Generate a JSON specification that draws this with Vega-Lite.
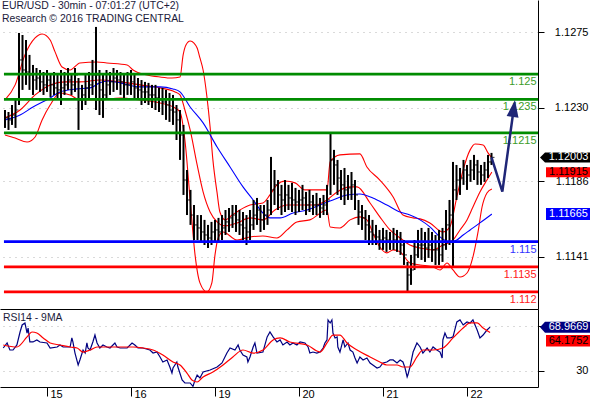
{
"$schema":"https://vega.github.io/schema/vega-lite/v6.json",
"padding":0,"spacing":0,"background":"#ffffff",
"config":{"view":{"stroke":null},"font":"Liberation Sans"},
"datasets":{
"candles":[
{"t":0,"h":1.12286,"l":1.12179,"c":1.12239},{"t":1,"h":1.12274,"l":1.12167,"c":1.12227},{"t":2,"h":1.12316,"l":1.12197,"c":1.12256},{"t":3,"h":1.12346,"l":1.12179,"c":1.12286},{"t":4,"h":1.12746,"l":1.12316,"c":1.12585},{"t":5,"h":1.12734,"l":1.12406,"c":1.12525},{"t":6,"h":1.12704,"l":1.12436,"c":1.12513},{"t":7,"h":1.12615,"l":1.12406,"c":1.12495},{"t":8,"h":1.12555,"l":1.12376,"c":1.12465},{"t":9,"h":1.12537,"l":1.12406,"c":1.12477},
{"t":10,"h":1.12525,"l":1.12394,"c":1.12454},{"t":11,"h":1.12513,"l":1.12376,"c":1.12436},{"t":12,"h":1.12525,"l":1.12394,"c":1.12465},{"t":13,"h":1.12495,"l":1.12364,"c":1.12436},{"t":14,"h":1.12513,"l":1.12376,"c":1.12418},{"t":15,"h":1.12495,"l":1.12346,"c":1.12406},{"t":16,"h":1.12525,"l":1.12316,"c":1.12418},{"t":17,"h":1.12513,"l":1.12376,"c":1.12436},{"t":18,"h":1.12537,"l":1.12406,"c":1.12465},{"t":19,"h":1.12495,"l":1.12376,"c":1.12436},
{"t":20,"h":1.12537,"l":1.12394,"c":1.12495},{"t":21,"h":1.12477,"l":1.12167,"c":1.12346},{"t":22,"h":1.12436,"l":1.12286,"c":1.12376},{"t":23,"h":1.12495,"l":1.12316,"c":1.12418},{"t":24,"h":1.12513,"l":1.12346,"c":1.12436},{"t":25,"h":1.12585,"l":1.12376,"c":1.12495},{"t":26,"h":1.12782,"l":1.12286,"c":1.12495},{"t":27,"h":1.12525,"l":1.12256,"c":1.12406},{"t":28,"h":1.12495,"l":1.12239,"c":1.12376},{"t":29,"h":1.12525,"l":1.12346,"c":1.12436},
{"t":30,"h":1.12513,"l":1.12376,"c":1.12454},{"t":31,"h":1.12537,"l":1.12394,"c":1.12477},{"t":32,"h":1.12525,"l":1.12406,"c":1.12465},{"t":33,"h":1.12513,"l":1.12376,"c":1.12454},{"t":34,"h":1.12495,"l":1.12358,"c":1.12436},{"t":35,"h":1.12513,"l":1.12376,"c":1.12436},{"t":36,"h":1.12525,"l":1.12376,"c":1.12454},{"t":37,"h":1.12495,"l":1.12346,"c":1.12418},{"t":38,"h":1.12477,"l":1.12346,"c":1.12406},{"t":39,"h":1.12465,"l":1.12316,"c":1.12394},
{"t":40,"h":1.12454,"l":1.12328,"c":1.12394},{"t":41,"h":1.12448,"l":1.12316,"c":1.12376},{"t":42,"h":1.12436,"l":1.12298,"c":1.12376},{"t":43,"h":1.12436,"l":1.12286,"c":1.12358},{"t":44,"h":1.12418,"l":1.12274,"c":1.12346},{"t":45,"h":1.12418,"l":1.12256,"c":1.12334},{"t":46,"h":1.12406,"l":1.12227,"c":1.12316},{"t":47,"h":1.12388,"l":1.12215,"c":1.12286},{"t":48,"h":1.12376,"l":1.12197,"c":1.12274},{"t":49,"h":1.12316,"l":1.12107,"c":1.12227},
{"t":50,"h":1.12286,"l":1.11988,"c":1.12137},{"t":51,"h":1.12197,"l":1.11779,"c":1.11868},{"t":52,"h":1.11928,"l":1.11659,"c":1.11749},{"t":53,"h":1.11809,"l":1.116,"c":1.11659},{"t":54,"h":1.11719,"l":1.1151,"c":1.116},{"t":55,"h":1.11659,"l":1.1151,"c":1.11582},{"t":56,"h":1.11659,"l":1.11492,"c":1.11558},{"t":57,"h":1.1163,"l":1.1148,"c":1.1154},{"t":58,"h":1.116,"l":1.11462,"c":1.11522},{"t":59,"h":1.11618,"l":1.1148,"c":1.11558},
{"t":60,"h":1.1163,"l":1.11492,"c":1.1157},{"t":61,"h":1.11642,"l":1.11498,"c":1.11558},{"t":62,"h":1.11659,"l":1.1151,"c":1.11582},{"t":63,"h":1.11689,"l":1.1154,"c":1.11618},{"t":64,"h":1.11701,"l":1.11558,"c":1.11642},{"t":65,"h":1.11719,"l":1.11582,"c":1.11659},{"t":66,"h":1.11719,"l":1.11558,"c":1.1163},{"t":67,"h":1.11689,"l":1.1154,"c":1.116},{"t":68,"h":1.11677,"l":1.1151,"c":1.11582},{"t":69,"h":1.11659,"l":1.1148,"c":1.11558},
{"t":70,"h":1.11689,"l":1.1151,"c":1.116},{"t":71,"h":1.11749,"l":1.1157,"c":1.11659},{"t":72,"h":1.11761,"l":1.116,"c":1.11689},{"t":73,"h":1.11719,"l":1.11558,"c":1.1163},{"t":74,"h":1.11719,"l":1.1157,"c":1.11659},{"t":75,"h":1.11749,"l":1.116,"c":1.11689},{"t":76,"h":1.12006,"l":1.11659,"c":1.11809},{"t":77,"h":1.11928,"l":1.11719,"c":1.11839},{"t":78,"h":1.11868,"l":1.11689,"c":1.11779},{"t":79,"h":1.11839,"l":1.11659,"c":1.11749},
{"t":80,"h":1.11868,"l":1.11677,"c":1.11779},{"t":81,"h":1.11839,"l":1.11689,"c":1.11761},{"t":82,"h":1.11851,"l":1.11677,"c":1.11749},{"t":83,"h":1.11821,"l":1.11659,"c":1.11737},{"t":84,"h":1.11809,"l":1.11677,"c":1.11749},{"t":85,"h":1.11839,"l":1.11689,"c":1.11761},{"t":86,"h":1.11797,"l":1.11659,"c":1.11719},{"t":87,"h":1.11809,"l":1.11677,"c":1.11737},{"t":88,"h":1.11779,"l":1.11659,"c":1.11719},{"t":89,"h":1.11791,"l":1.11659,"c":1.11719},
{"t":90,"h":1.11761,"l":1.11642,"c":1.11701},{"t":91,"h":1.11779,"l":1.11659,"c":1.11719},{"t":92,"h":1.11839,"l":1.11659,"c":1.11749},{"t":93,"h":1.12143,"l":1.11779,"c":1.11988},{"t":94,"h":1.12048,"l":1.11839,"c":1.11958},{"t":95,"h":1.11988,"l":1.11779,"c":1.1188},{"t":96,"h":1.11928,"l":1.11749,"c":1.11839},{"t":97,"h":1.1194,"l":1.11719,"c":1.11809},{"t":98,"h":1.11898,"l":1.11749,"c":1.11821},{"t":99,"h":1.11916,"l":1.11749,"c":1.11839},
{"t":100,"h":1.11868,"l":1.11689,"c":1.11779},{"t":101,"h":1.11749,"l":1.116,"c":1.11677},{"t":102,"h":1.11719,"l":1.1157,"c":1.11642},{"t":103,"h":1.11689,"l":1.1151,"c":1.116},{"t":104,"h":1.11659,"l":1.1148,"c":1.11558},{"t":105,"h":1.1163,"l":1.1148,"c":1.1154},{"t":106,"h":1.116,"l":1.1148,"c":1.11528},{"t":107,"h":1.1157,"l":1.11451,"c":1.1151},{"t":108,"h":1.11582,"l":1.11451,"c":1.11522},{"t":109,"h":1.1157,"l":1.11439,"c":1.1151},
{"t":110,"h":1.11558,"l":1.11451,"c":1.11498},{"t":111,"h":1.11582,"l":1.11451,"c":1.1151},{"t":112,"h":1.1157,"l":1.11439,"c":1.11498},{"t":113,"h":1.11558,"l":1.11421,"c":1.1148},{"t":114,"h":1.1151,"l":1.11361,"c":1.11421},{"t":115,"h":1.11379,"l":1.112,"c":1.11301},{"t":116,"h":1.11421,"l":1.11242,"c":1.11331},{"t":117,"h":1.1151,"l":1.11331,"c":1.11421},{"t":118,"h":1.1157,"l":1.11403,"c":1.1148},{"t":119,"h":1.11582,"l":1.11391,"c":1.1148},
{"t":120,"h":1.11558,"l":1.11379,"c":1.11462},{"t":121,"h":1.11582,"l":1.11403,"c":1.1148},{"t":122,"h":1.11558,"l":1.11379,"c":1.11451},{"t":123,"h":1.1154,"l":1.11361,"c":1.11451},{"t":124,"h":1.1157,"l":1.11361,"c":1.11421},{"t":125,"h":1.11582,"l":1.11379,"c":1.1148},{"t":126,"h":1.11689,"l":1.11451,"c":1.116},{"t":127,"h":1.11749,"l":1.1148,"c":1.11659},{"t":128,"h":1.11976,"l":1.11349,"c":1.11809},{"t":129,"h":1.11958,"l":1.11749,"c":1.11868},
{"t":130,"h":1.1194,"l":1.11779,"c":1.1188},{"t":131,"h":1.11988,"l":1.11839,"c":1.11928},{"t":132,"h":1.11958,"l":1.11809,"c":1.11898},{"t":133,"h":1.11988,"l":1.11857,"c":1.11928},{"t":134,"h":1.12018,"l":1.11868,"c":1.11958},{"t":135,"h":1.11988,"l":1.11839,"c":1.11916},{"t":136,"h":1.11958,"l":1.11839,"c":1.11898},{"t":137,"h":1.11976,"l":1.11857,"c":1.11928},{"t":138,"h":1.12018,"l":1.1188,"c":1.11976},{"t":139,"h":1.1203,"l":1.11958,"c":1.12003}
],
"bands":[
{"s":"upper","t":0,"v":1.12346},{"s":"upper","t":2.9,"v":1.12436},{"s":"upper","t":5.7,"v":1.12615},{"s":"upper","t":8.6,"v":1.12716},{"s":"upper","t":10.6,"v":1.1274},{"s":"upper","t":12.9,"v":1.12704},{"s":"upper","t":14.3,"v":1.12633},{"s":"upper","t":16.3,"v":1.12543},{"s":"upper","t":18.6,"v":1.12525},{"s":"upper","t":21.4,"v":1.12567},{"s":"upper","t":26.3,"v":1.12573},{"s":"upper","t":29.1,"v":1.12567},{"s":"upper","t":34.9,"v":1.12555},{"s":"upper","t":36.6,"v":1.12525},{"s":"upper","t":40.6,"v":1.12495},{"s":"upper","t":44.3,"v":1.12483},{"s":"upper","t":47.7,"v":1.12477},{"s":"upper","t":50,"v":1.12483},{"s":"upper","t":50.9,"v":1.12615},{"s":"upper","t":51.7,"v":1.12674},{"s":"upper","t":52.9,"v":1.12698},{"s":"upper","t":54,"v":1.12686},{"s":"upper","t":54.9,"v":1.12656},{"s":"upper","t":55.7,"v":1.12597},{"s":"upper","t":56.6,"v":1.12525},{"s":"upper","t":57.7,"v":1.12364},{"s":"upper","t":58.6,"v":1.12185},{"s":"upper","t":59.4,"v":1.11988},{"s":"upper","t":60.6,"v":1.11791},{"s":"upper","t":61.4,"v":1.11677},{"s":"upper","t":62.9,"v":1.1163},{"s":"upper","t":64.9,"v":1.11659},{"s":"upper","t":67.1,"v":1.11689},{"s":"upper","t":70,"v":1.11719},{"s":"upper","t":73.7,"v":1.11731},{"s":"upper","t":75.7,"v":1.11779},{"s":"upper","t":77.7,"v":1.11839},{"s":"upper","t":80,"v":1.11862},{"s":"upper","t":82.9,"v":1.11851},{"s":"upper","t":85.7,"v":1.11809},{"s":"upper","t":90,"v":1.11809},{"s":"upper","t":92,"v":1.11809},{"s":"upper","t":92.9,"v":1.11976},{"s":"upper","t":95.7,"v":1.12018},{"s":"upper","t":101.4,"v":1.12024},{"s":"upper","t":103.4,"v":1.11946},{"s":"upper","t":107.1,"v":1.11868},{"s":"upper","t":110.9,"v":1.11767},{"s":"upper","t":113.7,"v":1.11659},{"s":"upper","t":116.6,"v":1.11642},{"s":"upper","t":118.6,"v":1.11636},{"s":"upper","t":121.4,"v":1.11612},{"s":"upper","t":125.1,"v":1.11558},{"s":"upper","t":127.1,"v":1.11588},{"s":"upper","t":129.1,"v":1.11767},{"s":"upper","t":130.9,"v":1.11928},{"s":"upper","t":132.9,"v":1.12048},{"s":"upper","t":134.3,"v":1.12083},{"s":"upper","t":136.6,"v":1.12077},{"s":"upper","t":138,"v":1.1203},{"s":"upper","t":139.1,"v":1.12},
{"s":"middle","t":0,"v":1.12239},{"s":"middle","t":4.3,"v":1.12286},{"s":"middle","t":8.6,"v":1.12376},{"s":"middle","t":12.9,"v":1.12436},{"s":"middle","t":17.1,"v":1.12454},{"s":"middle","t":21.4,"v":1.12454},{"s":"middle","t":27.1,"v":1.12465},{"s":"middle","t":32.9,"v":1.12454},{"s":"middle","t":38.6,"v":1.12436},{"s":"middle","t":44.3,"v":1.12418},{"s":"middle","t":48.6,"v":1.12394},{"s":"middle","t":50,"v":1.12376},{"s":"middle","t":51.4,"v":1.12286},{"s":"middle","t":52.9,"v":1.12167},{"s":"middle","t":54.9,"v":1.11958},{"s":"middle","t":56.6,"v":1.11797},{"s":"middle","t":58.6,"v":1.11677},{"s":"middle","t":60.6,"v":1.11618},{"s":"middle","t":62.9,"v":1.11594},{"s":"middle","t":66.3,"v":1.11612},{"s":"middle","t":70,"v":1.11642},{"s":"middle","t":73.7,"v":1.1163},{"s":"middle","t":77.1,"v":1.11689},{"s":"middle","t":80.6,"v":1.11719},{"s":"middle","t":84.3,"v":1.11719},{"s":"middle","t":88.6,"v":1.11719},{"s":"middle","t":92,"v":1.11749},{"s":"middle","t":94.9,"v":1.11797},{"s":"middle","t":98.6,"v":1.11827},{"s":"middle","t":100.6,"v":1.11827},{"s":"middle","t":104.3,"v":1.11731},{"s":"middle","t":107.1,"v":1.11648},{"s":"middle","t":110,"v":1.1157},{"s":"middle","t":112.9,"v":1.11522},{"s":"middle","t":115.7,"v":1.1148},{"s":"middle","t":118.6,"v":1.11462},{"s":"middle","t":122.3,"v":1.11451},{"s":"middle","t":125.1,"v":1.1148},{"s":"middle","t":128,"v":1.1151},{"s":"middle","t":130,"v":1.1157},{"s":"middle","t":132,"v":1.1163},{"s":"middle","t":133.7,"v":1.11707},{"s":"middle","t":135.7,"v":1.11797},{"s":"middle","t":137.7,"v":1.11868},{"s":"middle","t":139.1,"v":1.11915},
{"s":"lower","t":0,"v":1.12137},{"s":"lower","t":2.9,"v":1.12119},{"s":"lower","t":6.3,"v":1.12095},{"s":"lower","t":8.6,"v":1.12125},{"s":"lower","t":10.6,"v":1.12227},{"s":"lower","t":12.9,"v":1.12316},{"s":"lower","t":15.7,"v":1.12388},{"s":"lower","t":18.6,"v":1.12376},{"s":"lower","t":21.4,"v":1.12346},{"s":"lower","t":27.1,"v":1.12346},{"s":"lower","t":32.9,"v":1.12358},{"s":"lower","t":38.6,"v":1.12346},{"s":"lower","t":44.3,"v":1.12328},{"s":"lower","t":48.6,"v":1.12298},{"s":"lower","t":50,"v":1.12274},{"s":"lower","t":51.4,"v":1.12107},{"s":"lower","t":52.9,"v":1.11749},{"s":"lower","t":54.3,"v":1.11421},{"s":"lower","t":55.7,"v":1.11254},{"s":"lower","t":57.7,"v":1.112},{"s":"lower","t":59.1,"v":1.11254},{"s":"lower","t":60,"v":1.11421},{"s":"lower","t":60.9,"v":1.11522},{"s":"lower","t":62.3,"v":1.11558},{"s":"lower","t":66.3,"v":1.1151},{"s":"lower","t":70,"v":1.11528},{"s":"lower","t":73.7,"v":1.11534},{"s":"lower","t":77.7,"v":1.11522},{"s":"lower","t":80.6,"v":1.1157},{"s":"lower","t":83.4,"v":1.11618},{"s":"lower","t":87.1,"v":1.1163},{"s":"lower","t":92,"v":1.11689},{"s":"lower","t":92.9,"v":1.11588},{"s":"lower","t":95.7,"v":1.11582},{"s":"lower","t":98.6,"v":1.1163},{"s":"lower","t":101.4,"v":1.11648},{"s":"lower","t":103.4,"v":1.1163},{"s":"lower","t":105.1,"v":1.11552},{"s":"lower","t":107.1,"v":1.11468},{"s":"lower","t":109.1,"v":1.11433},{"s":"lower","t":110.9,"v":1.11451},{"s":"lower","t":112.9,"v":1.11439},{"s":"lower","t":115.7,"v":1.11373},{"s":"lower","t":118.6,"v":1.11361},{"s":"lower","t":122.3,"v":1.11349},{"s":"lower","t":124.3,"v":1.11331},{"s":"lower","t":126.3,"v":1.11373},{"s":"lower","t":128,"v":1.11331},{"s":"lower","t":130,"v":1.11289},{"s":"lower","t":132,"v":1.11313},{"s":"lower","t":133.7,"v":1.11409},{"s":"lower","t":135.1,"v":1.11552},{"s":"lower","t":136.3,"v":1.11707},{"s":"lower","t":137.7,"v":1.11791},{"s":"lower","t":139.1,"v":1.11815},
{"s":"ma","t":0,"v":1.12227},{"s":"ma","t":4.3,"v":1.12256},{"s":"ma","t":8,"v":1.12304},{"s":"ma","t":12.9,"v":1.12358},{"s":"ma","t":15.7,"v":1.12394},{"s":"ma","t":20.6,"v":1.12412},{"s":"ma","t":24.3,"v":1.12418},{"s":"ma","t":27.1,"v":1.12448},{"s":"ma","t":29.1,"v":1.12459},{"s":"ma","t":32.9,"v":1.12448},{"s":"ma","t":38.6,"v":1.12424},{"s":"ma","t":44.3,"v":1.12424},{"s":"ma","t":48,"v":1.12412},{"s":"ma","t":50,"v":1.12394},{"s":"ma","t":52.9,"v":1.12304},{"s":"ma","t":56.6,"v":1.12209},{"s":"ma","t":60.6,"v":1.12065},{"s":"ma","t":64.3,"v":1.11946},{"s":"ma","t":68,"v":1.11827},{"s":"ma","t":70.9,"v":1.11749},{"s":"ma","t":73.7,"v":1.11671},{"s":"ma","t":75.7,"v":1.11642},{"s":"ma","t":78.6,"v":1.11642},{"s":"ma","t":82.3,"v":1.11671},{"s":"ma","t":86.3,"v":1.11689},{"s":"ma","t":90,"v":1.11719},{"s":"ma","t":93.7,"v":1.11749},{"s":"ma","t":97.7,"v":1.11779},{"s":"ma","t":101.4,"v":1.11785},{"s":"ma","t":105.1,"v":1.11761},{"s":"ma","t":109.1,"v":1.11719},{"s":"ma","t":112.9,"v":1.11677},{"s":"ma","t":115.7,"v":1.11659},{"s":"ma","t":118.6,"v":1.1163},{"s":"ma","t":121.4,"v":1.11588},{"s":"ma","t":124.3,"v":1.11528},{"s":"ma","t":127.1,"v":1.11498},{"s":"ma","t":129.1,"v":1.1151},{"s":"ma","t":130.9,"v":1.1154},{"s":"ma","t":132.9,"v":1.1157},{"s":"ma","t":135.7,"v":1.11612},{"s":"ma","t":139.1,"v":1.11665}
],
"levels":[
{"price":1.125,"label":"1.125","kind":"resistance"},{"price":1.1235,"label":"1.1235","kind":"resistance"},{"price":1.1215,"label":"1.1215","kind":"resistance"},{"price":1.115,"label":"1.115","kind":"pivot"},{"price":1.1135,"label":"1.1135","kind":"support"},{"price":1.112,"label":"1.112","kind":"support"}
],
"forecast":[{"t":139,"v":1.12003},{"t":142.1,"v":1.11799},{"t":145.3,"v":1.12286}],
"pricelabels":[{"name":"last","v":1.12003},{"name":"mid","v":1.11915},{"name":"ma","v":1.11665}],
"rsi":[
{"t":-0.5,"v":50.3},{"t":0.6,"v":54.8},{"t":1.4,"v":48.5},{"t":2.3,"v":48.5},{"t":3.4,"v":53.0},{"t":4.3,"v":64.6},{"t":4.9,"v":70.9},{"t":5.7,"v":72.7},{"t":6.3,"v":63.7},{"t":6.6,"v":68.2},{"t":7.1,"v":55.7},{"t":8,"v":55.7},{"t":9.1,"v":57.5},{"t":10,"v":55.7},{"t":12,"v":54.8},{"t":12.9,"v":50.3},{"t":14.9,"v":51.2},{"t":15.7,"v":53.0},{"t":16.6,"v":51.2},{"t":18.6,"v":51.2},{"t":19.1,"v":59.3},{"t":19.4,"v":55.7},{"t":20,"v":45.8},{"t":20.9,"v":35.1},{"t":21.4,"v":39.6},{"t":22.3,"v":48.5},{"t":22.9,"v":45.8},{"t":23.4,"v":54.8},{"t":23.7,"v":50.3},{"t":24.3,"v":48.5},{"t":25.1,"v":55.7},{"t":25.7,"v":61.9},{"t":26.3,"v":54.8},{"t":27.1,"v":50.3},{"t":28,"v":53.0},{"t":29.1,"v":51.2},{"t":30,"v":50.3},{"t":31.4,"v":54.8},{"t":32,"v":51.2},{"t":32.9,"v":50.3},{"t":34.9,"v":50.3},{"t":36.3,"v":54.8},{"t":37.1,"v":53.0},{"t":38,"v":50.3},{"t":39.4,"v":50.3},{"t":41.4,"v":48.5},{"t":42.3,"v":45.8},{"t":43.4,"v":46.7},{"t":44.3,"v":42.3},{"t":45.1,"v":37.8},{"t":46.3,"v":39.6},{"t":47.1,"v":33.3},{"t":47.7,"v":27.9},{"t":48,"v":32.4},{"t":49.1,"v":37.8},{"t":49.4,"v":33.3},{"t":50.6,"v":21.7},{"t":51.4,"v":19.0},{"t":52.9,"v":19.0},{"t":53.7,"v":16.0},{"t":54.3,"v":21.7},{"t":54.9,"v":26.1},{"t":55.7,"v":23.5},{"t":56.6,"v":28.8},{"t":58.6,"v":30.6},{"t":60.6,"v":33.3},{"t":62,"v":36.9},{"t":63.4,"v":45.8},{"t":64.3,"v":50.3},{"t":65.7,"v":48.5},{"t":66.6,"v":53.0},{"t":67.1,"v":48.5},{"t":68,"v":44.0},{"t":69.1,"v":42.3},{"t":69.4,"v":37.8},{"t":70,"v":42.3},{"t":70.9,"v":51.2},{"t":71.4,"v":54.8},{"t":72,"v":45.8},{"t":73.7,"v":46.7},{"t":74.9,"v":60.2},{"t":75.7,"v":64.6},{"t":76.6,"v":60.2},{"t":77.7,"v":55.7},{"t":78.6,"v":57.5},{"t":79.4,"v":53.0},{"t":80.6,"v":55.7},{"t":81.4,"v":53.0},{"t":82.3,"v":54.8},{"t":83.4,"v":53.0},{"t":84.3,"v":55.7},{"t":85.7,"v":54.8},{"t":86.6,"v":51.2},{"t":87.1,"v":45.8},{"t":88,"v":46.7},{"t":89.1,"v":45.8},{"t":90,"v":46.7},{"t":90.9,"v":50.3},{"t":91.4,"v":54.8},{"t":92,"v":57.5},{"t":92.3,"v":75.4},{"t":92.9,"v":72.7},{"t":93.4,"v":75.4},{"t":93.7,"v":63.7},{"t":94.3,"v":59.3},{"t":94.9,"v":60.2},{"t":95.1,"v":51.2},{"t":95.7,"v":46.7},{"t":96.6,"v":57.5},{"t":97.1,"v":51.2},{"t":98,"v":54.8},{"t":98.6,"v":48.5},{"t":99.4,"v":46.7},{"t":100,"v":41.4},{"t":100.6,"v":36.9},{"t":101.4,"v":42.3},{"t":102.3,"v":39.6},{"t":103.4,"v":41.4},{"t":104.3,"v":36.9},{"t":105.1,"v":35.1},{"t":106.3,"v":32.4},{"t":107.1,"v":33.3},{"t":108,"v":36.9},{"t":109.1,"v":37.8},{"t":110,"v":39.6},{"t":110.9,"v":39.6},{"t":112,"v":36.9},{"t":112.9,"v":39.6},{"t":113.7,"v":37.8},{"t":114.3,"v":32.4},{"t":114.9,"v":24.4},{"t":115.1,"v":26.1},{"t":115.7,"v":33.3},{"t":116.6,"v":46.7},{"t":117.7,"v":54.8},{"t":118.6,"v":51.2},{"t":119.4,"v":45.8},{"t":120.6,"v":50.3},{"t":121.4,"v":46.7},{"t":122.3,"v":51.2},{"t":123.4,"v":48.5},{"t":124.3,"v":46.7},{"t":124.9,"v":41.4},{"t":125.1,"v":57.5},{"t":125.7,"v":63.7},{"t":126.3,"v":59.3},{"t":127.1,"v":59.3},{"t":128,"v":60.2},{"t":129.1,"v":73.6},{"t":130,"v":75.4},{"t":130.9,"v":70.9},{"t":132,"v":73.6},{"t":132.9,"v":72.7},{"t":133.7,"v":75.4},{"t":134.3,"v":70.9},{"t":134.9,"v":66.4},{"t":135.7,"v":59.3},{"t":136.6,"v":61.9},{"t":137.7,"v":66.4},{"t":138.6,"v":68.9669}
],
"rsima":[
{"t":-0.5,"v":53.0},{"t":3.4,"v":51.2},{"t":6.3,"v":60.2},{"t":7.7,"v":64.6},{"t":9.1,"v":63.7},{"t":10.9,"v":59.3},{"t":12.9,"v":54.8},{"t":15.7,"v":53.0},{"t":18.6,"v":51.2},{"t":20.6,"v":50.3},{"t":22.3,"v":46.7},{"t":24.3,"v":48.5},{"t":26.3,"v":51.2},{"t":29.1,"v":51.2},{"t":32.9,"v":51.2},{"t":36.6,"v":51.2},{"t":39.4,"v":50.3},{"t":42.3,"v":48.5},{"t":45.1,"v":44.0},{"t":48,"v":37.8},{"t":50,"v":35.1},{"t":52,"v":27.9},{"t":53.4,"v":21.7},{"t":54.9,"v":19.9},{"t":56.6,"v":24.4},{"t":59.4,"v":28.8},{"t":62.3,"v":35.1},{"t":65.1,"v":42.3},{"t":68,"v":48.5},{"t":70.9,"v":45.8},{"t":73.7,"v":48.5},{"t":76.6,"v":57.5},{"t":78.6,"v":59.3},{"t":81.4,"v":55.7},{"t":86.3,"v":53.0},{"t":90,"v":46.7},{"t":92,"v":54.8},{"t":93.7,"v":61.9},{"t":95.7,"v":61.9},{"t":97.7,"v":54.8},{"t":100.6,"v":48.5},{"t":104.3,"v":42.3},{"t":107.1,"v":37.8},{"t":109.1,"v":35.1},{"t":112,"v":35.1},{"t":113.7,"v":33.3},{"t":115.7,"v":33.3},{"t":117.7,"v":42.3},{"t":119.4,"v":48.5},{"t":122.3,"v":48.5},{"t":125.1,"v":50.3},{"t":128,"v":59.3},{"t":130.9,"v":68.2},{"t":132.9,"v":72.7},{"t":134.9,"v":72.7},{"t":136.6,"v":68.2},{"t":138.6,"v":64.1752}
],
"rsilabels":[{"name":"rsi","v":68.9669},{"name":"ma","v":64.1752}]
},
"vconcat":[
{
"width":538,"height":309,
"resolve":{"scale":{"color":"independent"}},
"layer":[
{"data":{"name":"bands"},"mark":{"type":"line","strokeWidth":1.1,"interpolate":"monotone"},
 "encoding":{
  "x":{"field":"t","type":"quantitative","scale":{"domain":[-1.4286,152.2857],"nice":false,"zero":false},
       "axis":{"orient":"bottom","labels":false,"ticks":false,"grid":false,"domain":true,"domainColor":"#000000","title":null,"zindex":0}},
  "y":{"field":"v","type":"quantitative","scale":{"domain":[1.11098,1.129428],"nice":false,"zero":false},
       "axis":{"orient":"right","values":[1.1141,1.1186,1.123,1.1275],"format":".4f","title":null,"grid":true,"gridColor":"#b4b4b4","gridDash":[1,5],"domain":true,"domainColor":"#000000","tickColor":"#000000","tickSize":6,"labelAlign":"right","labelPadding":44,"labelFontSize":11,"labelColor":"#000000","labelFont":"Liberation Sans","labelOverlap":false,"zindex":0}},
  "color":{"field":"s","type":"nominal","scale":{"domain":["upper","middle","lower","ma"],"range":["#ff0000","#ff0000","#ff0000","#0000ff"]},"legend":null}
 }},
{"data":{"name":"candles"},"mark":{"type":"rule","color":"#000000","strokeWidth":2},
 "encoding":{
  "x":{"field":"t","type":"quantitative","scale":{"domain":[-1.4286,152.2857],"nice":false,"zero":false}},
  "y":{"field":"l","type":"quantitative","scale":{"domain":[1.11098,1.129428],"nice":false,"zero":false}},
  "y2":{"field":"h"}
 }},
{"data":{"name":"candles"},"mark":{"type":"tick","orient":"horizontal","size":3,"thickness":1.2,"color":"#000000","xOffset":1.5},
 "encoding":{
  "x":{"field":"t","type":"quantitative","scale":{"domain":[-1.4286,152.2857],"nice":false,"zero":false}},
  "y":{"field":"c","type":"quantitative","scale":{"domain":[1.11098,1.129428],"nice":false,"zero":false}}
 }},
{"data":{"name":"levels"},"mark":{"type":"rule","strokeWidth":2.7},
 "encoding":{
  "x":{"datum":-0.3,"type":"quantitative","scale":{"domain":[-1.4286,152.2857],"nice":false,"zero":false}},
  "x2":{"datum":152.2857},
  "y":{"field":"price","type":"quantitative","scale":{"domain":[1.11098,1.129428],"nice":false,"zero":false}},
  "color":{"field":"kind","type":"nominal","scale":{"domain":["resistance","pivot","support"],"range":["#008c00","#0000ff","#ff0000"]},"legend":null}
 }},
{"data":{"name":"levels"},"mark":{"type":"text","align":"right","baseline":"alphabetic","dy":11,"fontSize":11,"font":"Liberation Sans"},
 "encoding":{
  "x":{"datum":151.86,"type":"quantitative","scale":{"domain":[-1.4286,152.2857],"nice":false,"zero":false}},
  "y":{"field":"price","type":"quantitative","scale":{"domain":[1.11098,1.129428],"nice":false,"zero":false}},
  "text":{"field":"label","type":"nominal"},
  "color":{"field":"kind","type":"nominal","scale":{"domain":["resistance","pivot","support"],"range":["#3c9c28","#3333ff","#ff2020"]},"legend":null}
 }},
{"data":{"name":"forecast"},"mark":{"type":"line","color":"#1f2677","strokeWidth":2.5},
 "encoding":{
  "x":{"field":"t","type":"quantitative","scale":{"domain":[-1.4286,152.2857],"nice":false,"zero":false}},
  "y":{"field":"v","type":"quantitative","scale":{"domain":[1.11098,1.129428],"nice":false,"zero":false}}
 }},
{"data":{"name":"forecast"},"transform":[{"filter":"datum.t > 145"}],
 "mark":{"type":"point","shape":"M0,-1L0.6,0.7L-0.6,0.7Z","size":400,"filled":true,"opacity":1,"color":"#1f2677","angle":8,"strokeWidth":0},
 "encoding":{
  "x":{"field":"t","type":"quantitative","scale":{"domain":[-1.4286,152.2857],"nice":false,"zero":false}},
  "y":{"field":"v","type":"quantitative","scale":{"domain":[1.11098,1.129428],"nice":false,"zero":false}}
 }},
{"data":{"values":[{}]},
 "mark":{"type":"text","text":["EUR/USD - 30min - 07:01:27 (UTC+2)","Research © 2016 TRADING CENTRAL"],"align":"left","baseline":"top","fontSize":10.4,"lineHeight":13,"color":"#1a1a3a","font":"Liberation Sans"},
 "encoding":{
  "x":{"datum":-0.86,"type":"quantitative","scale":{"domain":[-1.4286,152.2857],"nice":false,"zero":false}},
  "y":{"datum":1.12937,"type":"quantitative","scale":{"domain":[1.11098,1.129428],"nice":false,"zero":false}}
 }},
{"data":{"name":"pricelabels"},
 "mark":{"type":"point","size":2500,"filled":true,"opacity":1,"strokeWidth":0},
 "encoding":{
  "x":{"datum":160,"type":"quantitative","scale":{"domain":[-1.4286,152.2857],"nice":false,"zero":false}},
  "y":{"field":"v","type":"quantitative","scale":{"domain":[1.11098,1.129428],"nice":false,"zero":false}},
  "shape":{"condition":[{"test":"datum.name === 'last'","value":"M-1,0L-0.8,-0.2L1,-0.2L1,0.2L-0.8,0.2Z"},{"test":"datum.name === 'mid'","value":"M-0.76,-0.2L1,-0.2L1,0.2L-0.76,0.2Z"}],"value":"M-0.76,-0.24L1,-0.24L1,0.24L-0.76,0.24Z"},
  "color":{"condition":[{"test":"datum.name === 'last'","value":"#000000"},{"test":"datum.name === 'mid'","value":"#ff0000"}],"value":"#0000ff"}
 }},
{"data":{"name":"pricelabels"},
 "mark":{"type":"text","align":"center","baseline":"middle","fontSize":11,"font":"Liberation Sans"},
 "encoding":{
  "x":{"datum":161,"type":"quantitative","scale":{"domain":[-1.4286,152.2857],"nice":false,"zero":false}},
  "y":{"field":"v","type":"quantitative","scale":{"domain":[1.11098,1.129428],"nice":false,"zero":false}},
  "text":{"field":"v","type":"quantitative","format":".5f"},
  "color":{"condition":{"test":"datum.name === 'mid'","value":"#000000"},"value":"#ffffff"}
 }}
]
},
{
"width":538,"height":78,
"layer":[
{"data":{"name":"rsi"},"mark":{"type":"line","color":"#000080","strokeWidth":1.2},
 "encoding":{
  "x":{"field":"t","type":"quantitative","scale":{"domain":[-1.4286,152.2857],"nice":false,"zero":false},
       "axis":{"orient":"bottom","values":[12,36,60,84,108,132],"labelExpr":"datum.value == 12 ? '15' : datum.value == 36 ? '16' : datum.value == 60 ? '19' : datum.value == 84 ? '20' : datum.value == 108 ? '21' : '22'","title":null,"grid":false,"domain":true,"domainColor":"#000000","tickColor":"#000000","tickSize":9,"labelAlign":"left","labelBaseline":"top","labelPadding":-8,"labelOffset":3,"labelFontSize":11,"labelColor":"#000000","labelFont":"Liberation Sans","labelOverlap":false,"zindex":0}},
  "y":{"field":"v","type":"quantitative","scale":{"domain":[15.41,85.2],"nice":false,"zero":false},
       "axis":{"orient":"right","values":[30,50,70],"format":"d","title":null,"grid":true,"gridColor":"#b4b4b4","gridDash":[1,5],"domain":true,"domainColor":"#000000","tickColor":"#000000","tickSize":6,"labelAlign":"right","labelPadding":44,"labelFontSize":11,"labelColor":"#000000","labelFont":"Liberation Sans","labelOverlap":false,"zindex":0}}
 }},
{"data":{"name":"rsima"},"mark":{"type":"line","color":"#ff0000","strokeWidth":1.2,"interpolate":"monotone"},
 "encoding":{
  "x":{"field":"t","type":"quantitative","scale":{"domain":[-1.4286,152.2857],"nice":false,"zero":false}},
  "y":{"field":"v","type":"quantitative","scale":{"domain":[15.41,85.2],"nice":false,"zero":false}}
 }},
{"data":{"values":[{}]},
 "mark":{"type":"text","text":"RSI14 - 9MA","align":"left","baseline":"top","fontSize":10.4,"color":"#1a1a3a","font":"Liberation Sans"},
 "encoding":{
  "x":{"datum":-0.57,"type":"quantitative","scale":{"domain":[-1.4286,152.2857],"nice":false,"zero":false}},
  "y":{"datum":81.6,"type":"quantitative","scale":{"domain":[15.41,85.2],"nice":false,"zero":false}}
 }},
{"data":{"name":"rsilabels"},"transform":[{"filter":"datum.name === 'rsi'"}],
 "mark":{"type":"point","size":2500,"filled":true,"opacity":1,"strokeWidth":0,"color":"#000080","shape":"M-1,0L-0.8,-0.22L1,-0.22L1,0.22L-0.8,0.22Z"},
 "encoding":{
  "x":{"datum":160,"type":"quantitative","scale":{"domain":[-1.4286,152.2857],"nice":false,"zero":false}},
  "y":{"field":"v","type":"quantitative","scale":{"domain":[15.41,85.2],"nice":false,"zero":false}}
 }},
{"data":{"name":"rsilabels"},"transform":[{"filter":"datum.name === 'ma'"}],
 "mark":{"type":"point","size":2500,"filled":true,"opacity":1,"strokeWidth":0,"color":"#ff0000","yOffset":8.3,"shape":"M-0.76,-0.23L1,-0.23L1,0.23L-0.76,0.23Z"},
 "encoding":{
  "x":{"datum":160,"type":"quantitative","scale":{"domain":[-1.4286,152.2857],"nice":false,"zero":false}},
  "y":{"field":"v","type":"quantitative","scale":{"domain":[15.41,85.2],"nice":false,"zero":false}}
 }},
{"data":{"name":"rsilabels"},"transform":[{"filter":"datum.name === 'rsi'"}],
 "mark":{"type":"text","align":"center","baseline":"middle","fontSize":11,"color":"#ffffff","font":"Liberation Sans"},
 "encoding":{
  "x":{"datum":161,"type":"quantitative","scale":{"domain":[-1.4286,152.2857],"nice":false,"zero":false}},
  "y":{"field":"v","type":"quantitative","scale":{"domain":[15.41,85.2],"nice":false,"zero":false}},
  "text":{"field":"v","type":"quantitative","format":".4f"}
 }},
{"data":{"name":"rsilabels"},"transform":[{"filter":"datum.name === 'ma'"}],
 "mark":{"type":"text","align":"center","baseline":"middle","fontSize":11,"color":"#000000","dy":8.3,"font":"Liberation Sans"},
 "encoding":{
  "x":{"datum":161,"type":"quantitative","scale":{"domain":[-1.4286,152.2857],"nice":false,"zero":false}},
  "y":{"field":"v","type":"quantitative","scale":{"domain":[15.41,85.2],"nice":false,"zero":false}},
  "text":{"field":"v","type":"quantitative","format":".4f"}
 }}
]
}
]
}
